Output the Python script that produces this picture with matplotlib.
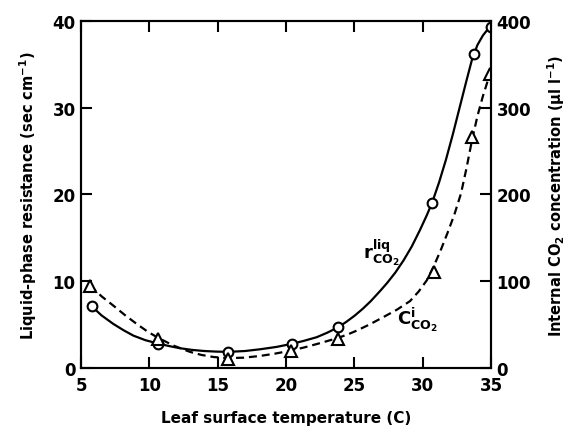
import matplotlib

matplotlib.use("Agg")
import matplotlib.pyplot as plt

# measured points
TEMP_R = [5.78, 10.66, 15.78, 20.4, 23.82, 30.7, 33.75, 35.0]
R_LIQ = [7.1, 2.8, 1.85, 2.77, 4.69, 19.0, 36.2, 39.3]

TEMP_C = [5.66, 10.66, 15.74, 20.37, 23.79, 30.8, 33.6, 34.9]
C_INT = [94.9, 33.4, 10.4, 20.0, 33.4, 110.0, 266.0, 339.0]

# fitted curves
CURVE_R_T = [5.78, 6.5, 7.36, 8.1, 8.83, 9.7, 10.66, 11.5, 12.24, 13.1, 14.0, 14.9,
             15.78, 17.0, 18.1, 19.3, 20.4, 21.3, 22.24, 23.0, 23.82, 24.4, 25.0,
             25.6, 26.2, 26.9, 27.4, 28.0, 28.6, 29.2, 29.8, 30.3, 30.7, 31.2,
             31.7, 32.2, 32.7, 33.2, 33.6, 34.0, 34.4, 34.7, 35.0]
CURVE_R = [7.1, 6.05, 5.07, 4.35, 3.72, 3.2, 2.8, 2.5, 2.27, 2.08, 1.95, 1.88,
           1.85, 1.95, 2.15, 2.42, 2.77, 3.12, 3.54, 4.05, 4.69, 5.3, 6.0,
           6.8, 7.7, 8.9, 9.8, 11.0, 12.4, 14.0, 15.9, 17.6, 19.1, 21.4,
           24.0, 26.9, 30.0, 33.1, 35.5, 37.2, 38.3, 38.9, 39.3]

CURVE_C_T = [5.66, 6.5, 7.36, 8.2, 9.07, 9.9, 10.66, 11.8, 12.97, 13.8, 14.68,
             15.7, 16.9, 18.1, 19.2, 20.3, 21.3, 22.24, 23.0, 23.8, 24.5, 25.17,
             26.1, 27.1, 28.1, 29.07, 29.7, 30.3, 30.8, 31.3, 31.8, 32.3, 32.8,
             33.2, 33.6, 34.0, 34.4, 34.7, 34.9]
C_CURVE = [94.9, 82.5, 71.8, 61.0, 50.7, 41.5, 34.5, 25.5, 18.5, 15.0, 12.6,
           11.3, 11.8, 13.8, 16.5, 19.8, 23.5, 27.5, 30.9, 34.6, 38.5, 43.0,
           50.0, 58.4, 67.0, 77.0, 88.0, 101.0, 117.0, 135.0, 155.0, 176.0, 201.0,
           230.0, 262.0, 290.0, 313.0, 328.0, 339.0]

X_TICKS = [5, 10, 15, 20, 25, 30, 35]
Y_LEFT_TICKS = [0, 10, 20, 30, 40]
Y_RIGHT_TICKS = [0, 100, 200, 300, 400]

plt.rcParams.update(
    {
        "font.family": "DejaVu Sans",
        "font.weight": "bold",
        "axes.labelweight": "bold",
        "mathtext.fontset": "dejavusans",
        "mathtext.default": "bf",
    }
)

fig = plt.figure(figsize=(5.71, 4.27), dpi=100)
ax = fig.add_axes([0.142, 0.136, 0.718, 0.813])
ax2 = ax.twinx()

ax.plot(CURVE_R_T, CURVE_R, color="black", linewidth=1.6, solid_joinstyle="round")
ax.plot(TEMP_R, R_LIQ, linestyle="none", marker="o", markersize=7.0,
        markerfacecolor="white", markeredgecolor="black", markeredgewidth=1.5)

ax2.plot(CURVE_C_T, C_CURVE, color="black", linewidth=1.6, linestyle=(0, (3.6, 2.2)),
         dash_joinstyle="round")
ax2.plot(TEMP_C, C_INT, linestyle="none", marker="^", markersize=8.0,
         markerfacecolor="white", markeredgecolor="black", markeredgewidth=1.5)

ax.set_xlim(5, 35)
ax.set_ylim(0, 40)
ax2.set_ylim(0, 400)
ax.set_xticks(X_TICKS)
ax.set_yticks(Y_LEFT_TICKS)
ax2.set_yticks(Y_RIGHT_TICKS)

for spine in list(ax.spines.values()) + list(ax2.spines.values()):
    spine.set_linewidth(1.5)

ax.tick_params(axis="x", direction="in", top=True, bottom=True, length=8, width=1.5,
               labelsize=12, pad=6)
ax.tick_params(axis="y", direction="in", left=True, right=False, length=8, width=1.5,
               labelsize=12, pad=4)
ax2.tick_params(axis="y", direction="in", right=True, length=8, width=1.5,
                labelsize=12, pad=4)

ax.set_xlabel("Leaf surface temperature (C)", fontsize=11, labelpad=11)
ax.set_ylabel("Liquid-phase resistance (sec cm$^{-1}$)", fontsize=10.5, labelpad=10)
ax2.set_ylabel("Internal CO$_2$ concentration ($\\mu$l l$^{-1}$)", fontsize=10.5,
               labelpad=10)

ax.text(27.0, 13.4, "r$^{liq}_{CO_2}$", fontsize=13, ha="center", va="center")
ax.text(29.6, 5.6, "C$^{i}_{CO_2}$", fontsize=13, ha="center", va="center")

fig.savefig("out.png", dpi=100)
